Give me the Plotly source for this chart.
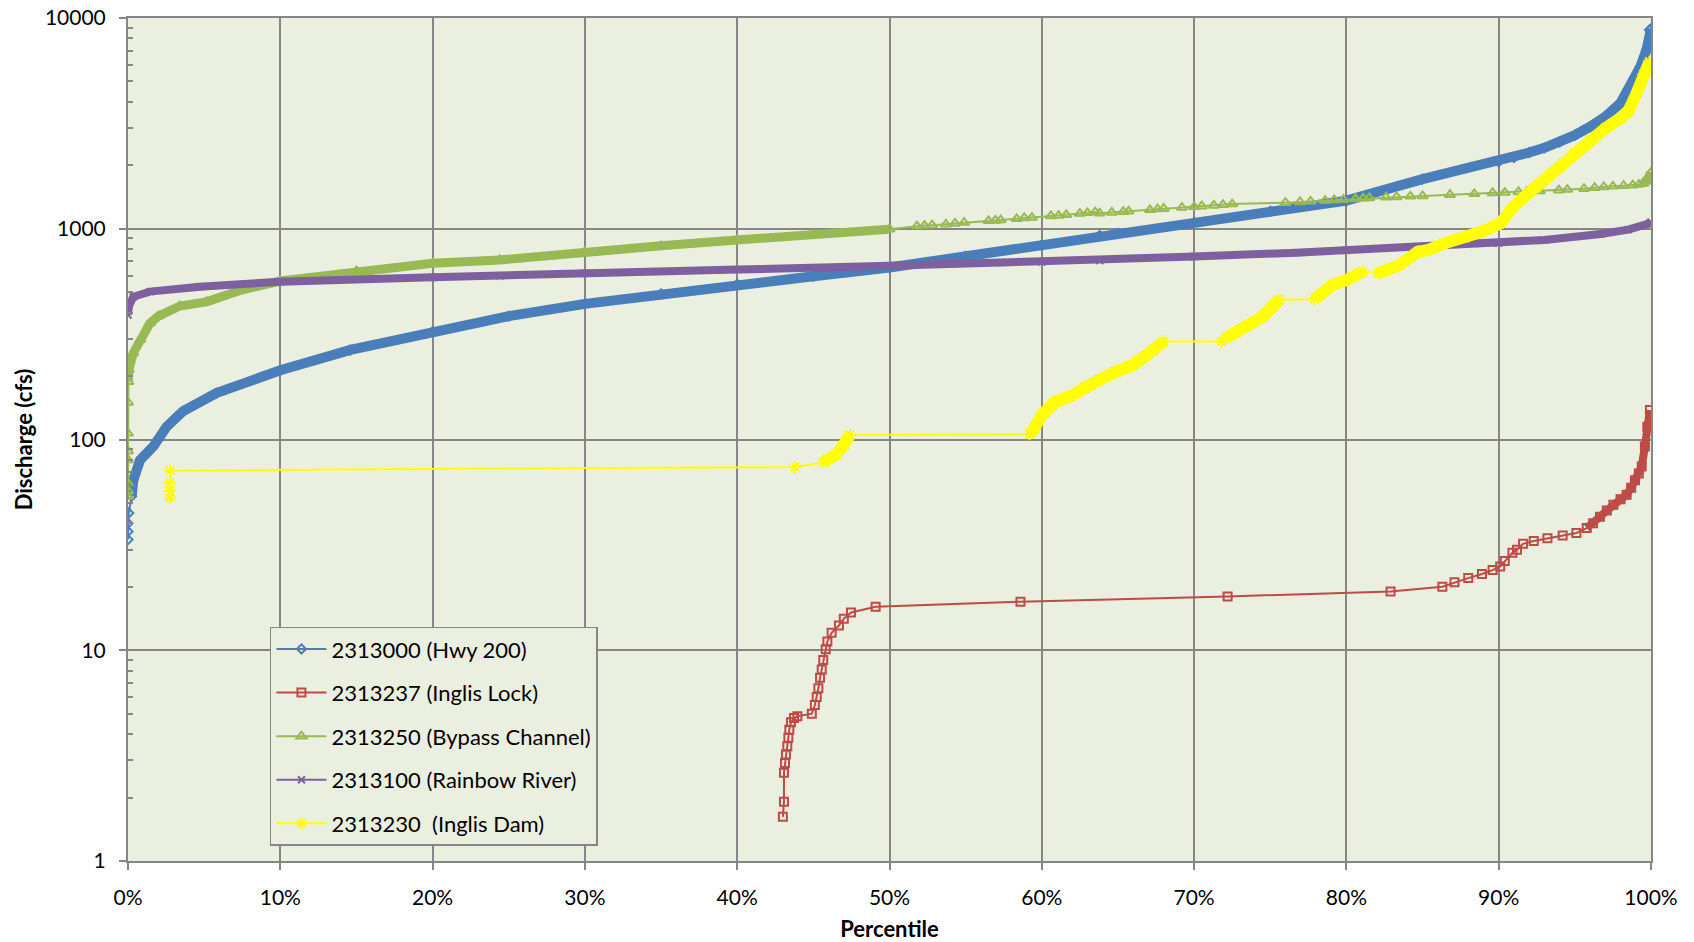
import plotly.graph_objects as go

# ---------------- data (percentile %, discharge cfs) ----------------
hwy200_pct = [0.0, 0.0, 0.0, 0.05, 0.24, 0.35, 0.8, 1.66, 2.54, 3.6, 5.8, 10, 14.6, 20, 25, 30, 35, 40, 45, 50,
              55, 60, 63.8, 65, 70, 75, 80, 85, 90, 91, 92, 93, 94, 95, 96, 97, 98, 98.4, 99, 99.3, 99.7, 99.9, 100]
hwy200_q = [33.5, 36.6, 40, 44.8, 53.7, 64.4, 80, 92.7, 115, 136, 166, 213, 266, 325, 385, 440, 490, 545, 595, 655,
            740, 835, 930, 950, 1070, 1210, 1360, 1720, 2080, 2180, 2300, 2420, 2580, 2780, 3050, 3400, 3950, 4400,
            5200, 5870, 7045, 8770, 8900]

lock_pct = [43.0, 43.07, 43.07, 43.14, 43.2, 43.29, 43.36, 43.42, 43.53, 43.73, 43.95, 44.9, 45.1, 45.22, 45.33,
            45.44, 45.55, 45.65, 45.81, 45.92, 46.2, 46.68, 47.0, 47.47, 49.09, 58.6, 72.2, 82.9, 86.3, 87.1, 88.0,
            88.9, 89.6, 90.1, 90.4, 90.9, 91.2, 91.6, 92.3, 93.2, 94.2, 95.1, 95.78, 96.2, 96.65, 97.1, 97.53, 98.0,
            98.4, 98.7, 98.95, 99.2, 99.39, 99.6, 99.76, 99.93]
lock_q = [1.62, 1.91, 2.62, 2.92, 3.2, 3.5, 3.84, 4.2, 4.55, 4.77, 4.86, 5.0, 5.5, 6.0, 6.6,
          7.4, 8.1, 9.0, 10.1, 11.0, 12.1, 13.1, 14.1, 15.1, 16.1, 17, 18, 19, 20, 21, 22,
          23, 24, 25, 26.5, 29, 30, 32, 33, 34, 35, 36, 38, 40, 43, 46, 49, 52,
          54.7, 59, 64, 69, 74.5, 92.7, 115, 138]

bypass_pct = [0, 0, 0, 0, 0, 0, 0, 0.02, 0.05, 0.35, 0.8, 1.44, 2.0, 3.4, 5.15, 7.5, 10, 15, 20, 24.4, 30, 35,
              40, 45, 50, 51.8, 52.3, 52.8, 53.7, 54.3, 54.9, 56.5, 56.95, 57.3, 58.35, 58.85, 59.35, 60.6, 61.1,
              61.6, 62.5, 63.0, 63.5, 63.8, 64.6, 65.35, 65.7, 67.1, 67.6, 68.0, 69.2, 70.0, 70.5, 71.3, 71.9,
              72.5, 76.0, 76.95, 77.65, 78.6, 79.2, 79.8, 80.6, 81.1, 81.5, 82.6, 83.3, 84.2, 85.0, 86.8, 88.4,
              89.6, 90.4, 91.3, 91.85, 92.7, 93.95, 94.5, 95.6, 96.3, 96.9, 97.5, 98.2, 98.8, 99.2, 99.5, 99.7,
              99.85, 100]
bypass_q = [53.7, 57, 62, 80, 88, 107, 150, 188, 214, 257, 297, 356, 385, 430, 450, 513, 565, 630, 686, 711, 779,
            830, 885, 940, 995, 1030, 1035, 1040, 1050, 1060, 1070, 1090, 1095, 1100, 1115, 1125, 1130, 1150, 1155,
            1165, 1180, 1190, 1200, 1184, 1195, 1205, 1210, 1230, 1240, 1245, 1260, 1270, 1280, 1290, 1300,
            1310, 1330, 1340, 1350, 1360, 1370, 1375, 1385, 1395, 1400, 1410, 1415, 1425, 1431, 1450, 1465,
            1478, 1485, 1495, 1500, 1510, 1525, 1535, 1550, 1565, 1580, 1590, 1600, 1610, 1620, 1640, 1680,
            1750, 1850]

rainbow_pct = [0, 0.05, 0.35, 1.44, 4.7, 10, 20, 24.4, 30, 40, 50, 57.3, 60, 63.8, 70, 76.7, 80, 84.8, 90, 93,
               96.7, 98.5, 99.9, 100]
rainbow_q = [390, 427, 476, 503, 531, 561, 589, 597, 615, 640, 667, 691, 695, 706, 738, 770, 790, 820, 855, 885,
             945, 990, 1060, 1075]

dam_pct = [2.76, 2.76, 2.76, 2.76, 43.8, 45.65, 46.5, 47.0, 47.4, 59.2, 59.45, 60, 60.9, 61.85, 62.8, 63.8, 64.9,
           66.0, 66.9, 68.0, 71.8, 72.1, 73.45, 74.5, 75.6, 77.9, 78.3, 79.1, 80, 81.1, 82.1, 82.2, 83.5, 84.7,
           85.4, 86.6, 88, 89, 90.1, 91, 92, 93, 94, 95, 96, 97, 98, 98.5, 99, 99.5, 99.9, 100]
dam_q = [53, 57, 62, 71.3, 74, 77.8, 84.6, 94.4, 105, 106, 111, 131, 151, 160, 178, 192, 210,
         226, 252, 292, 292, 303, 343, 383, 460, 463, 486, 541, 571, 626, 615, 620, 673, 779,
         794, 860, 920, 975, 1060, 1280, 1480, 1700, 1960, 2300, 2650, 3000, 3350, 3600, 4300, 5400, 6200, 6000]

names = ["2313000 (Hwy 200)", "2313237 (Inglis Lock)", "2313250 (Bypass Channel)",
         "2313100 (Rainbow River)", "2313230  (Inglis Dam)"]

x_ticks = [0, 10, 20, 30, 40, 50, 60, 70, 80, 90, 100]
y_ticks = [1, 10, 100, 1000, 10000]

# ---------------- styling ----------------
GRID = "#868686"
BG = "#EBEFDF"
FONT = "Lato, 'Open Sans', sans-serif"

series = [
    dict(name=names[0], pct=hwy200_pct, q=hwy200_q, color="#4A7EBB", symbol="diamond-open", size=7,
         bands=[(0.24, 100)], bw=10),
    dict(name=names[1], pct=lock_pct, q=lock_q, color="#BE4B48", symbol="square-open", size=8,
         bands=[(95.7, 100)], bw=8),
    dict(name=names[2], pct=bypass_pct, q=bypass_q, color="#98B954", symbol="triangle-up-open", size=9,
         bands=[(0.01, 50), (99.4, 100)], bw=9),
    dict(name=names[3], pct=rainbow_pct, q=rainbow_q, color="#7E60A0", symbol="x-thin-open", size=7,
         bands=[(0, 100)], bw=8),
    dict(name=names[4], pct=dam_pct, q=dam_q, color="#FFFF00", symbol="asterisk-open", size=10,
         bands=[(45.6, 47.5), (59.1, 68.1), (72.0, 75.7), (77.8, 81.2), (82.0, 100)], bw=12),
]

fig = go.Figure()
for i, s in enumerate(series):
    grp = f"g{i}"
    fig.add_trace(go.Scatter(
        x=s["pct"], y=s["q"], name=s["name"], mode="lines+markers", legendgroup=grp,
        line=dict(color=s["color"], width=2),
        marker=dict(symbol=s["symbol"], size=s["size"], color=s["color"],
                    line=dict(color=s["color"], width=2)),
    ))
    for lo, hi in s["bands"]:
        bx = [p for p in s["pct"] if lo <= p <= hi]
        by = [q for p, q in zip(s["pct"], s["q"]) if lo <= p <= hi]
        fig.add_trace(go.Scatter(
            x=bx, y=by, mode="lines", legendgroup=grp, showlegend=False, hoverinfo="skip",
            line=dict(color=s["color"], width=s["bw"]),
        ))

fig.update_layout(
    width=1694, height=942,
    margin=dict(l=128, r=43, t=18, b=81, autoexpand=False),
    paper_bgcolor="white", plot_bgcolor=BG,
    font=dict(family=FONT, size=21, color="black"),
    showlegend=True,
    legend=dict(
        x=0.0932, y=0.278, xanchor="left", yanchor="top",
        bgcolor=BG, bordercolor=GRID, borderwidth=1.5,
        font=dict(family=FONT, size=22, color="black"),
        tracegroupgap=12, itemwidth=50,
    ),
)

fig.update_xaxes(
    range=[0, 100], tickvals=x_ticks, ticktext=[f"{v}%" for v in x_ticks],
    showgrid=True, gridcolor=GRID, gridwidth=2, automargin=False,
    showline=True, linecolor=GRID, linewidth=2, mirror=True,
    ticks="outside", ticklen=7, tickwidth=2, tickcolor=GRID, ticklabelstandoff=10,
    zeroline=False,
    title=dict(text="<b>Percentile</b>", font=dict(size=22), standoff=16),
)
fig.update_yaxes(
    type="log", range=[0, 4], tickvals=y_ticks, ticktext=[str(v) for v in y_ticks],
    showgrid=True, gridcolor=GRID, gridwidth=2, automargin=False,
    showline=True, linecolor=GRID, linewidth=2, mirror=True,
    ticks="outside", ticklen=7, tickwidth=2, tickcolor=GRID, ticklabelstandoff=9,
    minor=dict(tickvals=[k * 10 ** d for d in range(4) for k in range(2, 10)],
               ticks="inside", ticklen=5, tickwidth=1.5, tickcolor=GRID, showgrid=False),
    zeroline=False,
    title=dict(text="<b>Discharge (cfs)</b>", font=dict(size=22), standoff=6),
)

fig.write_html("out.html")
